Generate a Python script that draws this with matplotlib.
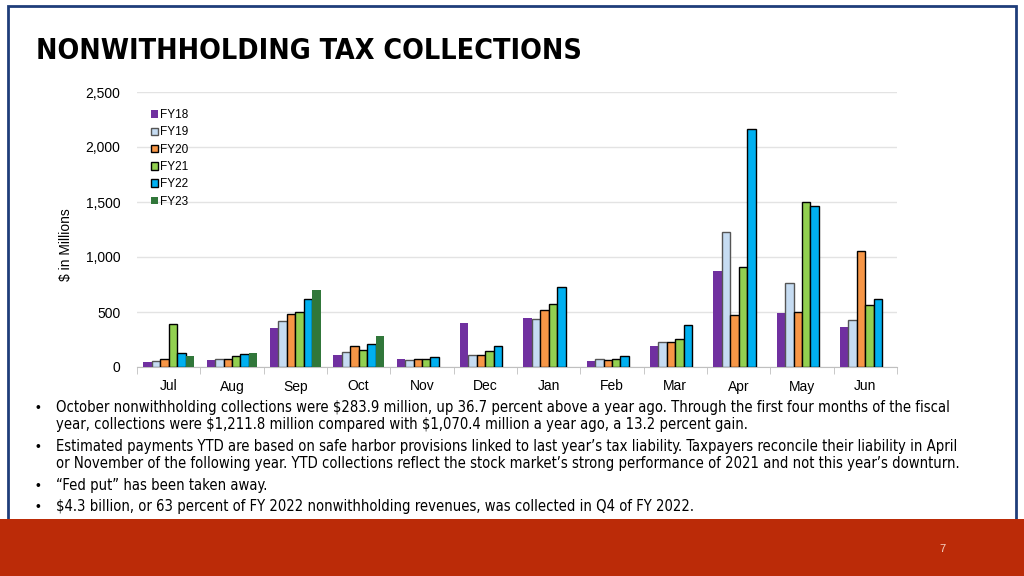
import numpy as np
import matplotlib.pyplot as plt
from matplotlib.patches import Rectangle

months = ['Jul', 'Aug', 'Sep', 'Oct', 'Nov', 'Dec', 'Jan', 'Feb', 'Mar', 'Apr', 'May', 'Jun']
years = ['FY18', 'FY19', 'FY20', 'FY21', 'FY22', 'FY23']

fy18 = [45, 61, 358, 112, 70, 403, 449, 52, 191, 873, 494, 367]
fy19 = [58, 70, 415, 136, 61, 113, 434, 70, 230, 1227, 764, 430]
fy20 = [73, 73, 485, 188, 70, 113, 515, 67, 230, 470, 503, 1055]
fy21 = [395, 100, 500, 152, 73, 143, 576, 76, 255, 906, 1500, 567]
fy22 = [131, 115, 622, 212, 94, 188, 725, 97, 385, 2167, 1461, 621]
fy23 = [100, 124, 703, 283.9, np.nan, np.nan, np.nan, np.nan, np.nan, np.nan, np.nan, np.nan]

colors = ['#7030A0', '#C6DCF2', '#F79646', '#92D050', '#00B0F0', '#31773A']
edges = ['none', '#555555', 'black', 'black', 'black', 'none']

bullets = [
    'October nonwithholding collections were \\$283.9 million, up 36.7 percent above a year ago. Through the first four months of the fiscal\n'
    'year, collections were \\$1,211.8 million compared with \\$1,070.4 million a year ago, a 13.2 percent gain.',
    'Estimated payments YTD are based on safe harbor provisions linked to last year\u2019s tax liability. Taxpayers reconcile their liability in April\n'
    'or November of the following year. YTD collections reflect the stock market\u2019s strong performance of 2021 and not this year\u2019s downturn.',
    '\u201cFed put\u201d has been taken away.',
    '\\$4.3 billion, or 63 percent of FY 2022 nonwithholding revenues, was collected in Q4 of FY 2022.',
]

plt.rcParams['font.family'] = ['Liberation Sans', 'DejaVu Sans']

fig = plt.figure(figsize=(10.24, 5.76), dpi=100)
fig.patch.set_facecolor('white')

# slide frame and footer band
fig.add_artist(Rectangle((8/1024, 0), 1008/1024, 1 - 6/576, transform=fig.transFigure,
                         fill=False, edgecolor='#1F3D7A', linewidth=2))
fig.add_artist(Rectangle((0, 0), 1, 57/576, transform=fig.transFigure,
                         facecolor='#BB2B08', edgecolor='none'))
fig.text(942/1024, 1 - 549/576, '7', color='#F6D3C4', fontsize=8, ha='center', va='center')

fig.text(36/1024, 1 - 51/576, 'NONWITHHOLDING TAX COLLECTIONS', family='DejaVu Sans',
         fontstretch='condensed', fontsize=20.5, fontweight='bold', va='center', ha='left')

ax = fig.add_axes([137/1024, 1 - 367/576, 760/1024, 275/576])
x = np.arange(len(months))
w = 0.134
series = [fy18, fy19, fy20, fy21, fy22, fy23]
for i in range(6):
    ax.bar(x + (i - 2.5) * w, series[i], width=w, color=colors[i], edgecolor=edges[i],
           linewidth=1.0, label=years[i], zorder=3)

ax.set_xlim(-0.5, 11.5)
ax.set_ylim(0, 2500)
ax.set_yticks([0, 500, 1000, 1500, 2000, 2500])
ax.set_yticklabels(['0', '500', '1,000', '1,500', '2,000', '2,500'], fontsize=10)
ax.set_xticks(x)
ax.set_xticklabels(months, fontsize=10)
ax.set_xticks(np.arange(-0.5, 12, 1), minor=True)
ax.tick_params(axis='x', which='major', length=0, pad=9)
ax.tick_params(axis='x', which='minor', length=5, color='#BFBFBF', direction='out')
ax.tick_params(axis='y', length=0, pad=12)
ax.grid(axis='y', color='#E3E3E3', linewidth=1, zorder=0)
for s in ['left', 'right', 'top']:
    ax.spines[s].set_visible(False)
ax.spines['bottom'].set_color('#BFBFBF')

leg = ax.legend(loc='upper left', bbox_to_anchor=(0.012, 0.955), frameon=False, fontsize=8.5,
                handlelength=0.6, handleheight=0.6, handletextpad=0.2, labelspacing=0.45,
                borderaxespad=0)

fig.text(66/1024, 1 - 245/576, '$ in Millions', rotation=90, fontsize=10, ha='center', va='center')

# bullet text
ys = [408, 447, 486, 507]
for yy, txt in zip(ys, bullets):
    fig.text(35/1024, 1 - yy/576, '\u2022', fontsize=10, ha='left', va='center')
    fig.text(56/1024, 1 - (yy - 8)/576, txt, family='DejaVu Sans', fontstretch='condensed',
             fontsize=10.6, ha='left', va='top', linespacing=1.15)

fig.savefig('out.png', dpi=100)
